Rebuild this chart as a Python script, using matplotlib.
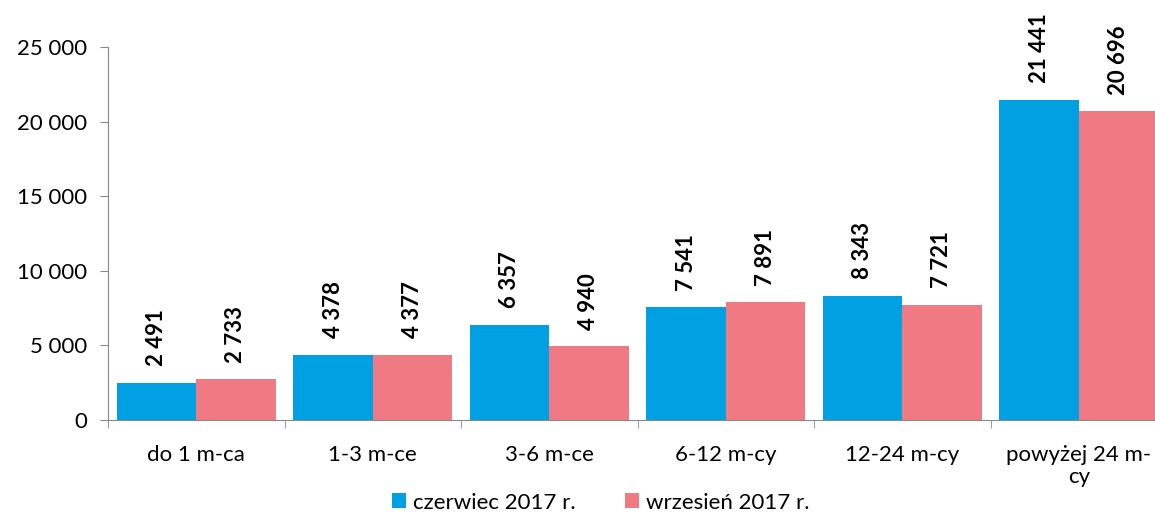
import matplotlib.pyplot as plt
import numpy as np

categories = ["do 1 m-ca", "1-3 m-ce", "3-6 m-ce", "6-12 m-cy", "12-24 m-cy", "powyżej 24 m-\ncy"]
czerwiec = [2491, 4378, 6357, 7541, 8343, 21441]
wrzesien = [2733, 4377, 4940, 7891, 7721, 20696]
series_names = ["czerwiec 2017 r.", "wrzesień 2017 r."]
yticks = [0, 5000, 10000, 15000, 20000, 25000]

plt.rcParams["font.family"] = ["Lato", "DejaVu Sans"]

blue = "#00A0E3"
pink = "#F07A84"


def fmt(v):
    return f"{v:,}".replace(",", " ")


fig = plt.figure(figsize=(11.55, 5.17), dpi=100)
ax = fig.add_axes([108 / 1155, 97 / 517, 1059 / 1155, 373 / 517])

x = np.arange(len(categories))
w = 0.45
b1 = ax.bar(x - w / 2, czerwiec, w, color=blue, label=series_names[0])
b2 = ax.bar(x + w / 2, wrzesien, w, color=pink, label=series_names[1])

for bars, vals in [(b1, czerwiec), (b2, wrzesien)]:
    for r, v in zip(bars, vals):
        ax.annotate(fmt(v), (r.get_x() + r.get_width() / 2, v), xytext=(0, 12),
                    textcoords="offset points", rotation=90, ha="center", va="bottom",
                    fontsize=16, fontweight="bold", annotation_clip=False)

ax.set_xlim(-0.5, len(categories) - 0.5)
ax.set_ylim(0, 25000)
ax.set_yticks(yticks)
ax.set_yticklabels([fmt(t) for t in yticks], fontsize=16)

ax.set_xticks(x)
ax.set_xticklabels(categories, fontsize=16, linespacing=1.1)
ax.tick_params(axis="x", which="major", length=0, pad=18)
ax.set_xticks(np.arange(len(categories) + 1) - 0.5, minor=True)
ax.tick_params(axis="x", which="minor", length=6, color="#888888")
ax.tick_params(axis="y", length=6, color="#888888", pad=9)

for s in ["top", "right"]:
    ax.spines[s].set_visible(False)
for s in ["left", "bottom"]:
    ax.spines[s].set_color("#888888")

fig.legend(loc="lower center", bbox_to_anchor=(0.52, -0.03), ncol=2, frameon=False,
           fontsize=16, handlelength=0.65, handleheight=0.65, handletextpad=0.3, columnspacing=2.2)

fig.savefig("out.png", dpi=100)
